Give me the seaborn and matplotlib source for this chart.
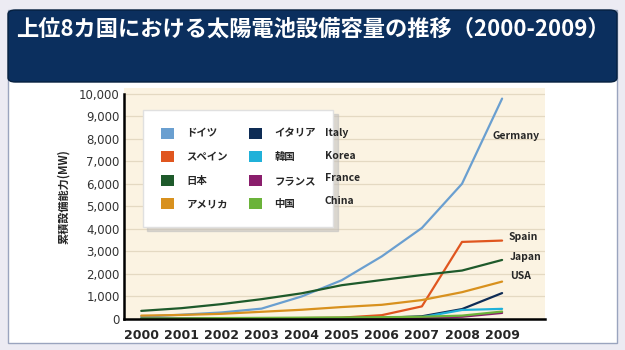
import pandas as pd
import matplotlib.pyplot as plt
import seaborn as sns
from matplotlib.patches import FancyBboxPatch, Patch

years = list(range(2000, 2010))
germany = [100, 190, 290, 460, 1000, 1720, 2780, 4040, 6000, 9780]
spain = [10, 20, 30, 30, 40, 60, 170, 560, 3420, 3480]
japan = [360, 480, 660, 880, 1140, 1500, 1730, 1950, 2150, 2620]
usa = [150, 180, 230, 320, 410, 530, 630, 840, 1190, 1660]
italy = [20, 20, 20, 30, 30, 40, 50, 120, 440, 1150]
korea = [5, 5, 10, 10, 10, 15, 35, 80, 400, 450]
france = [5, 5, 10, 10, 10, 20, 30, 50, 100, 270]
china = [20, 25, 40, 50, 60, 70, 80, 100, 150, 330]

countries_en = ["Germany", "Spain", "Japan", "USA", "Italy", "Korea", "France", "China"]
countries_ja = ["ドイツ", "スペイン", "日本", "アメリカ", "イタリア", "韓国", "フランス", "中国"]
colors = ["#6A9FD0", "#E0561F", "#1E5A2B", "#D8911E", "#0E2C55", "#20B1D9", "#8A1E6C", "#6BB33A"]
series = [germany, spain, japan, usa, italy, korea, france, china]

rows = []
for name, vals in zip(countries_en, series):
    for y, v in zip(years, vals):
        rows.append({"year": y, "mw": v, "country": name})
df = pd.DataFrame(rows)

sns.set_style("white")
plt.rcParams["font.family"] = ["Noto Sans CJK JP", "DejaVu Sans"]

fig = plt.figure(figsize=(6.25, 3.5), dpi=100, facecolor="#ECEBF3")

# white panel + title bar
panel = FancyBboxPatch((8 / 625, 1 - 343 / 350), 609 / 625, 333 / 350,
                       boxstyle="square,pad=0", transform=fig.transFigure,
                       facecolor="white", edgecolor="#9AA4BE", linewidth=1.0, zorder=-10)
fig.patches.append(panel)
bar = FancyBboxPatch((8 / 625, 1 - 82 / 350), 609 / 625, 72 / 350,
                     boxstyle="round,pad=0,rounding_size=0.012", transform=fig.transFigure,
                     facecolor="#0B2F5E", edgecolor="#06203F", linewidth=1.0, zorder=-9)
fig.patches.append(bar)
fig.text(0.5, 1 - 29 / 350, "上位8カ国における太陽電池設備容量の推移（2000-2009）",
         color="white", fontsize=16, fontweight="bold", ha="center", va="center")

ax = fig.add_axes([124 / 625, 1 - 319 / 350, 421 / 625, 231 / 350])
ax.set_facecolor("#FBF3E2")

sns.lineplot(data=df, x="year", y="mw", hue="country", hue_order=countries_en,
             palette=dict(zip(countries_en, colors)), linewidth=1.6,
             legend=False, ax=ax)

ax.set_xlim(1999.57, 2010.07)
ax.set_ylim(0, 10250)
ax.set_xticks(years)
ax.set_yticks(range(0, 10001, 1000))
ax.set_yticklabels([f"{v:,}" for v in range(0, 10001, 1000)], fontsize=8.5,
                   color="#333333", family="DejaVu Sans")
ax.set_xticklabels([str(y) for y in years], fontsize=9, fontweight="bold",
                   family="DejaVu Sans")
ax.tick_params(axis="x", length=3, width=1, direction="out", pad=4)
ax.tick_params(axis="y", length=0, pad=3)
ax.grid(axis="y", color="#E4D9C2", linewidth=0.9)
ax.set_axisbelow(True)
for s in ["top", "right"]:
    ax.spines[s].set_visible(False)
for s in ["left", "bottom"]:
    ax.spines[s].set_color("black")
    ax.spines[s].set_linewidth(1.8)
ax.spines["left"].set_bounds(0, 10000)
ax.set_xlabel("")
ax.set_ylabel("累積設備能力(MW)", fontsize=8, fontweight="bold")
ax.yaxis.set_label_coords(-0.128, 0.532)

# end labels
ax.text(2008.75, 8100, "Germany", fontsize=7.5, fontweight="bold", va="center")
ax.text(2009.15, 3650, "Spain", fontsize=7.5, fontweight="bold", va="center")
ax.text(2009.2, 2750, "Japan", fontsize=7.5, fontweight="bold", va="center")
ax.text(2009.2, 1900, "USA", fontsize=7.5, fontweight="bold", va="center")

handles = [Patch(facecolor=c, edgecolor="none", label=l) for c, l in zip(colors, countries_ja)]
leg = ax.legend(handles=handles, ncol=2, loc="upper left", bbox_to_anchor=(0.033, 0.927),
                handlelength=1.25, handleheight=1.25, handletextpad=1.2,
                labelspacing=1.2, columnspacing=2.0, borderpad=1.7,
                frameon=True, fancybox=False,
                shadow={"color": "#BBBBBB", "alpha": 0.5, "ox": 3, "oy": -3},
                prop={"weight": "bold", "size": 7.5})
leg.get_frame().set_edgecolor("#E0E0E0")
leg.get_frame().set_facecolor("white")
leg.get_frame().set_alpha(1)
leg.set_zorder(3)

for i, name in enumerate(countries_en[4:]):
    ax.text(0.477, (319 - (133 + i * 22.5)) / 231, name, transform=ax.transAxes,
            fontsize=7.5, fontweight="bold", va="center", zorder=6)

fig.savefig("out.png", dpi=100, facecolor=fig.get_facecolor())
